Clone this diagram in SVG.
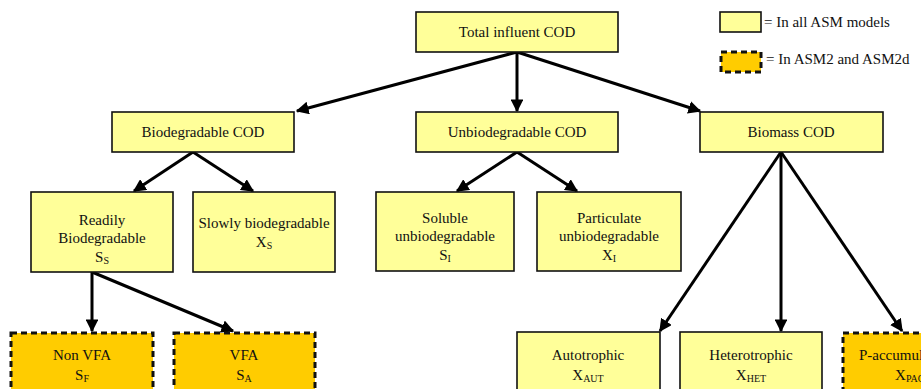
<svg xmlns="http://www.w3.org/2000/svg" width="921" height="389" viewBox="0 0 921 389">
<defs>
<style>
text{font-family:"Liberation Serif","Times New Roman",serif;font-size:15px;fill:#111;text-anchor:middle}
.sub{font-size:10px}
.y{fill:#FFFF99;stroke:#111;stroke-width:1.6}
.o{fill:#FFCC00;stroke:#111;stroke-width:3;stroke-dasharray:6 4}
.c{stroke:#000;stroke-width:3;fill:none;marker-end:url(#ah)}
</style>
<marker id="ah" viewBox="0 0 10 10" refX="9" refY="5" markerWidth="4.3" markerHeight="4.3" orient="auto">
<path d="M0,0 L10,5 L0,10 z" fill="#000"/>
</marker>
</defs>
<rect width="921" height="389" fill="#fff"/>
<g id="connectors">
<line class="c" x1="517" y1="52" x2="297" y2="111"/>
<line class="c" x1="517" y1="52" x2="517" y2="111"/>
<line class="c" x1="517" y1="52" x2="700" y2="111"/>
<line class="c" x1="193" y1="152" x2="134" y2="191"/>
<line class="c" x1="193" y1="152" x2="253" y2="191"/>
<line class="c" x1="517" y1="152" x2="457" y2="191"/>
<line class="c" x1="517" y1="152" x2="577" y2="191"/>
<line class="c" x1="781" y1="152" x2="660" y2="331"/>
<line class="c" x1="781" y1="152" x2="781" y2="331"/>
<line class="c" x1="781" y1="152" x2="902" y2="331"/>
<line class="c" x1="92" y1="272" x2="92" y2="331"/>
<line class="c" x1="92" y1="272" x2="233" y2="331"/>
</g>
<g id="total">
<rect class="y" x="416" y="12" width="202" height="40"/>
<text x="517" y="37">Total influent COD</text>
</g>
<g id="biodeg">
<rect class="y" x="112" y="112" width="182" height="40"/>
<text x="203" y="137">Biodegradable COD</text>
</g>
<g id="unbiodeg">
<rect class="y" x="416" y="112" width="202" height="40"/>
<text x="517" y="137">Unbiodegradable COD</text>
</g>
<g id="biomass">
<rect class="y" x="700" y="112" width="183" height="40"/>
<text x="791" y="137">Biomass COD</text>
</g>
<g id="readily">
<rect class="y" x="31" y="192" width="142" height="80"/>
<text x="102" y="225">Readily</text>
<text x="102" y="243">Biodegradable</text>
<text x="102" y="262">S<tspan class="sub" dy="2">S</tspan></text>
</g>
<g id="slowly">
<rect class="y" x="193" y="192" width="142" height="80"/>
<text x="264" y="228">Slowly biodegradable</text>
<text x="264" y="247">X<tspan class="sub" dy="2">S</tspan></text>
</g>
<g id="soluble">
<rect class="y" x="376" y="192" width="138" height="79"/>
<text x="445" y="223">Soluble</text>
<text x="445" y="241">unbiodegradable</text>
<text x="445" y="260">S<tspan class="sub" dy="2">I</tspan></text>
</g>
<g id="particulate">
<rect class="y" x="537" y="192" width="144" height="79"/>
<text x="609" y="223">Particulate</text>
<text x="609" y="241">unbiodegradable</text>
<text x="609" y="260">X<tspan class="sub" dy="2">I</tspan></text>
</g>
<g id="nonvfa">
<rect class="o" x="11" y="333" width="142" height="70"/>
<text x="82" y="360">Non VFA</text>
<text x="82" y="380">S<tspan class="sub" dy="2">F</tspan></text>
</g>
<g id="vfa">
<rect class="o" x="174" y="333" width="141" height="70"/>
<text x="244" y="360">VFA</text>
<text x="244" y="380">S<tspan class="sub" dy="2">A</tspan></text>
</g>
<g id="autotrophic">
<rect class="y" x="517" y="332" width="143" height="70"/>
<text x="588" y="360">Autotrophic</text>
<text x="588" y="380">X<tspan class="sub" dy="2">AUT</tspan></text>
</g>
<g id="heterotrophic">
<rect class="y" x="680" y="332" width="142" height="70"/>
<text x="751" y="360">Heterotrophic</text>
<text x="751" y="380">X<tspan class="sub" dy="2">HET</tspan></text>
</g>
<g id="paccum">
<rect class="o" x="843" y="333" width="150" height="70"/>
<text x="906" y="360">P-accumulating</text>
<text x="910" y="380">X<tspan class="sub" dy="2">PAO</tspan></text>
</g>
<g id="legend">
<rect class="y" x="720" y="12" width="41" height="20"/>
<text x="764" y="27" style="text-anchor:start">= In all ASM models</text>
<rect class="o" x="721" y="52" width="40" height="20"/>
<text x="766" y="64" style="text-anchor:start">= In ASM2 and ASM2d</text>
</g>
</svg>
